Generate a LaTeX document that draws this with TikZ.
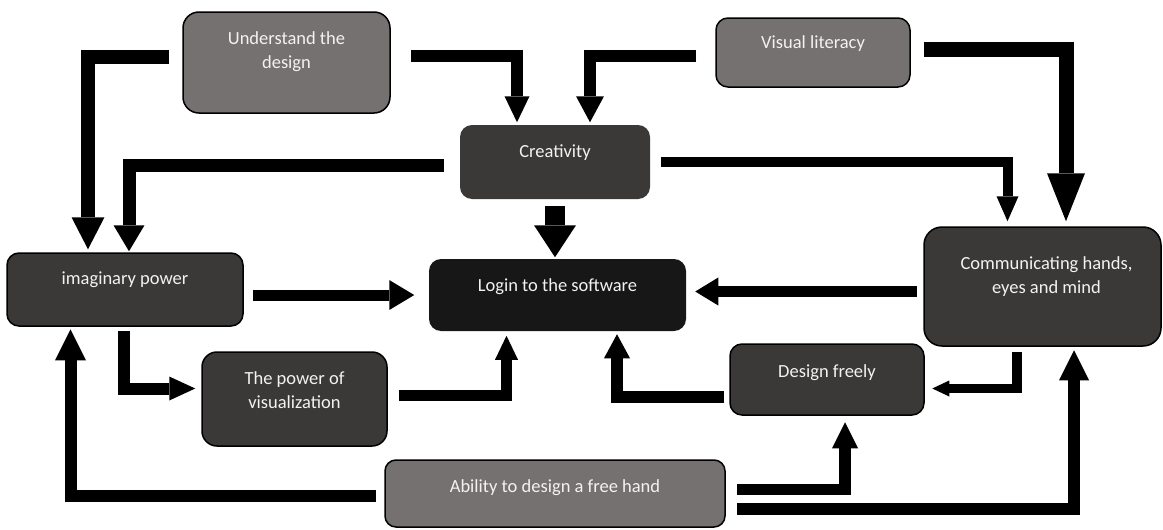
\documentclass[tikz,border=0pt]{standalone}
\usepackage{fontspec}
\setmainfont{Carlito}
\usetikzlibrary{arrows.meta,positioning}
\definecolor{lightbox}{HTML}{767171}
\definecolor{darkbox}{HTML}{3B3838}
\definecolor{blackbox}{HTML}{181717}

\begin{document}
\begin{tikzpicture}[
  x=1pt, y=-1pt,
  box/.style={draw=black, line width=1.5pt, rounded corners=12pt, inner sep=0pt},
  txt/.style={text=white!95!black, font=\fontsize{18.5}{24}\selectfont, align=center, inner sep=0pt},
  arr/.style n args={3}{line width=#1pt, -{Triangle[width=#2pt, length=#3pt, line width=0pt]}}
]
\fill[white] (0,0) rectangle (1163,530);
\useasboundingbox (0,0) rectangle (1163,530);

\node[box, fill=lightbox, minimum width=207pt, minimum height=101pt, rounded corners=16pt] (und) at (286.5,62.5) {};
\node[box, fill=lightbox, minimum width=194pt, minimum height=69pt] (vis) at (813,52.5) {};
\node[box, draw=none, fill=darkbox, minimum width=190pt, minimum height=74pt] (cre) at (555,162) {};
\node[box, fill=darkbox, minimum width=236pt, minimum height=73pt] (ima) at (125,289.5) {};
\node[box, draw=none, fill=blackbox, minimum width=257pt, minimum height=72pt] (log) at (557.5,295) {};
\node[box, fill=darkbox, minimum width=237pt, minimum height=119pt, rounded corners=18pt] (com) at (1042.5,286.5) {};
\node[box, fill=darkbox, minimum width=185pt, minimum height=94pt, rounded corners=15pt] (pow) at (294.5,399) {};
\node[box, fill=darkbox, minimum width=194pt, minimum height=71pt] (dfr) at (827,379.5) {};
\node[box, fill=lightbox, minimum width=340pt, minimum height=67pt, rounded corners=11pt] (abi) at (555,493.5) {};

\node[txt, below=20pt of und.north] (undlbl) {Understand the\\design};
\node[txt, below=18pt of vis.north] (vislbl) {Visual literacy};
\node[txt, below=20pt of cre.north] (crelbl) {Creativity};
\node[txt, below=19pt of ima.north] (imalbl) {imaginary power};
\node[txt, below=20pt of log.north] (loglbl) {Login to the software};
\node[txt, below=30pt of com.north, xshift=4pt] (comlbl) {Communicating hands,\\eyes and mind};
\node[txt, below=20pt of pow.north] (powlbl) {The power of\\visualization};
\node[txt, below=21pt of dfr.north] (dfrlbl) {Design freely};
\node[txt, below=20pt of abi.north] (abilbl) {Ability to design a free hand};

\draw[arr={14}{33}{32}] ([xshift=-13pt,yshift=6pt]und.west) -| ([xshift=-37pt,yshift=3pt]ima.north);
\draw[arr={12}{25}{26}] ([xshift=20pt,yshift=6.5pt]und.east) -| ([xshift=-38pt,yshift=2pt]cre.north);
\draw[arr={13}{31}{26}] ([xshift=-15pt,yshift=-3pt]cre.west) -| ([xshift=4pt,yshift=1pt]ima.north);
\draw[arr={20}{42}{32}] ([yshift=-6pt]cre.south) -- ([xshift=-2.5pt,yshift=1pt]log.north);
\draw[arr={12}{28}{26}] ([xshift=-19pt,yshift=-3.5pt]vis.west) -| ([xshift=35pt,yshift=2pt]cre.north);
\draw[arr={15}{38}{48}] ([xshift=13pt,yshift=3.5pt]vis.east) -| ([xshift=23.5pt,yshift=5pt]com.north);
\draw[arr={10}{22}{25}] ([xshift=10pt]cre.east) -| ([xshift=-35pt,yshift=5pt]com.north);
\draw[arr={11}{30}{25}] ([xshift=9.5pt,yshift=-5.5pt]ima.east) -- ([xshift=-14pt]log.west);
\draw[arr={12}{24}{26}] ([xshift=-1.5pt,yshift=-4pt]ima.south) |- ([xshift=-6pt,yshift=10.5pt]pow.west);
\draw[arr={11}{23}{24}] ([xshift=11pt,yshift=3.5pt]pow.east) -| ([xshift=-51pt,yshift=-4pt]log.south);
\draw[arr={12}{31}{31}] ([xshift=-8pt,yshift=-2pt]abi.west) -| ([xshift=-54.5pt,yshift=-2.5pt]ima.south);
\draw[arr={11}{28}{23}] ([xshift=-6.5pt,yshift=-5pt]com.west) -- ([xshift=8.5pt,yshift=3.5pt]log.east);
\draw[arr={9.5}{16}{17}] ([xshift=-25.5pt,yshift=-5.5pt]com.south) |- ([xshift=7.5pt,yshift=-9pt]dfr.east);
\draw[arr={12}{26}{24}] ([xshift=-5pt,yshift=-17.5pt]dfr.west) -| ([xshift=59.5pt,yshift=-2.5pt]log.south);
\draw[arr={11.5}{26}{26}] ([xshift=11pt,yshift=4pt]abi.east) -| ([xshift=18pt,yshift=-6.5pt]dfr.south);
\draw[arr={12}{30}{30}] ([xshift=11pt,yshift=-15.5pt]abi.east) -| ([xshift=31.5pt,yshift=-3.5pt]com.south);
\end{tikzpicture}
\end{document}
